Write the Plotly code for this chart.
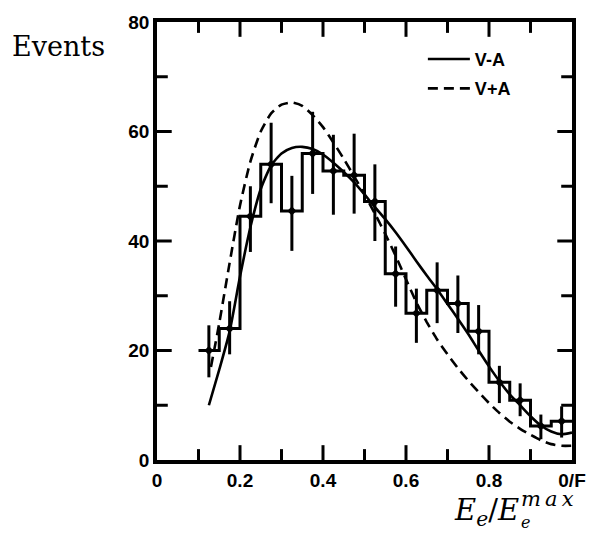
import plotly.graph_objects as go

# Measured spectrum: bin centres, event counts and asymmetric errors
bin_edges = [0.10, 0.15, 0.20, 0.25, 0.30, 0.35, 0.40, 0.45, 0.50, 0.55,
             0.60, 0.65, 0.70, 0.75, 0.80, 0.85, 0.90, 0.95, 1.00]
bin_centres = [0.125, 0.175, 0.225, 0.275, 0.325, 0.375, 0.425, 0.475, 0.525,
               0.575, 0.625, 0.675, 0.725, 0.775, 0.825, 0.875, 0.925, 0.975]
events = [20, 24, 44.5, 54, 45.5, 56, 52.8, 52, 47.2,
          34, 26.8, 31, 28.6, 23.5, 14.2, 10.9, 6.2, 7.1]
err_up = [4.6, 5.0, 5.5, 7.6, 6.4, 7.6, 6.6, 7.6, 6.8,
          5.0, 4.5, 5.1, 5.1, 4.8, 3.0, 3.1, 2.1, 2.7]
err_down = [4.9, 4.7, 6.5, 7.1, 7.3, 7.4, 8.0, 7.0, 7.2,
            6.0, 5.4, 6.0, 5.4, 4.2, 3.8, 2.9, 2.4, 3.0]

# Theoretical predictions
va_x = [0.125, 0.15, 0.175, 0.2, 0.225, 0.25, 0.275, 0.3, 0.325, 0.35, 0.375,
        0.4, 0.425, 0.45, 0.475, 0.5, 0.525, 0.55, 0.575, 0.6, 0.625, 0.65,
        0.675, 0.7, 0.725, 0.75, 0.775, 0.8, 0.825, 0.85, 0.875, 0.9, 0.925,
        0.95, 0.975, 1.0]
va_y = [10, 16.5, 23.5, 33.5, 42.5, 49.5, 53.8, 56, 57, 57.2, 56.8,
        55.8, 54.3, 52.6, 50.7, 48.5, 46.2, 44, 41.6, 39, 36.3, 33.7,
        31.2, 28.5, 25.8, 23, 20, 17.1, 14.4, 12, 10, 8, 6.3,
        5.2, 4.7, 5.0]

vpa_x = [0.13, 0.15, 0.175, 0.2, 0.225, 0.25, 0.275, 0.3, 0.325, 0.35, 0.375,
         0.4, 0.425, 0.45, 0.475, 0.5, 0.525, 0.55, 0.575, 0.6, 0.625, 0.65,
         0.675, 0.7, 0.725, 0.75, 0.775, 0.8, 0.825, 0.85, 0.875, 0.9, 0.925,
         0.95, 0.975, 1.0]
vpa_y = [17, 25, 36, 46.5, 54.5, 60, 63.3, 64.9, 65.3, 64.7, 63,
         60.8, 58, 55, 51.8, 48.5, 45, 41.3, 37.3, 33, 28.8, 25.2,
         22, 19.3, 16.8, 14.5, 12.4, 10.4, 8.6, 7, 5.7, 4.6, 3.6,
         2.9, 2.6, 2.6]

# axis ticks: labelled values and the unlabelled ones in between
x_ticks = [0.0, 0.2, 0.4, 0.6, 0.8, 1.0]
x_ticktext = ["0", "0.2", "0.4", "0.6", "0.8", "0/F"]
x_minor = [0.1, 0.3, 0.5, 0.7, 0.9]
y_ticks = [0, 20, 40, 60, 80]
y_ticktext = ["0", "20", "40", "60", "80"]
y_minor = [10, 30, 50, 70]

W, H = 598, 534
L, R, T, B = 157, 18, 17, 74
PW, PH = W - L - R, H - T - B


def px_x(p):
    return (p - L) / PW


def px_y(p):
    return (H - B - p) / PH


bold = dict(family="Liberation Sans", size=19, color="black", weight="bold")

fig = go.Figure()

# histogram as a step line
fig.add_trace(go.Scatter(
    x=bin_edges, y=events + [events[-1]], mode="lines",
    line=dict(color="black", width=3, shape="hv"),
    showlegend=False, hoverinfo="skip"))

# data points with error bars
fig.add_trace(go.Scatter(
    x=bin_centres, y=events, mode="markers",
    marker=dict(color="black", size=7, symbol="diamond"),
    error_y=dict(type="data", symmetric=False, array=err_up,
                 arrayminus=err_down, color="black", thickness=3, width=0),
    showlegend=False, hoverinfo="skip"))

fig.add_trace(go.Scatter(
    x=va_x, y=va_y, mode="lines", name="V-A", legendgroup="a",
    line=dict(color="black", width=2.6, shape="spline", smoothing=0.6)))
fig.add_trace(go.Scatter(
    x=vpa_x, y=vpa_y, mode="lines", name="V+A", legendgroup="b",
    line=dict(color="black", width=2.6, dash="10px,6px", shape="spline",
              smoothing=0.6)))

axis_common = dict(showline=True, linewidth=3.5, linecolor="black",
                   mirror=True, ticks="", showgrid=False, zeroline=False,
                   tickfont=bold)

fig.update_xaxes(range=[0, 1], tickmode="array", tickvals=x_ticks,
                 ticktext=x_ticktext, **axis_common)
fig.update_yaxes(range=[0, 80], tickmode="array", tickvals=y_ticks,
                 ticktext=y_ticktext, **axis_common)

# inward tick marks on all four sides of the frame
MAJOR, MINOR = 15, 11
tick_line = dict(color="black", width=3)
shapes = []
for vals, n in ((x_ticks[1:-1], MAJOR), (x_minor, MINOR)):
    for v in vals:
        shapes.append(dict(type="line", xref="x", yref="paper", x0=v, x1=v,
                           y0=0, y1=n / PH, line=tick_line, layer="above"))
        shapes.append(dict(type="line", xref="x", yref="paper", x0=v, x1=v,
                           y0=1, y1=1 - n / PH, line=tick_line, layer="above"))
for vals, n in ((y_ticks[1:-1], MAJOR), (y_minor, MINOR)):
    for v in vals:
        shapes.append(dict(type="line", xref="paper", yref="y", y0=v, y1=v,
                           x0=0, x1=n / PW, line=tick_line, layer="above"))
        shapes.append(dict(type="line", xref="paper", yref="y", y0=v, y1=v,
                           x0=1, x1=1 - n / PW, line=tick_line, layer="above"))

serif = "DejaVu Serif"
annotations = [
    dict(text="Events", x=px_x(57), y=px_y(42), xanchor="center",
         yanchor="middle", font=dict(family=serif, size=27, color="black")),
    dict(text="<i>E</i><sub><i>e</i></sub>/<i>E</i>", x=px_x(459),
         y=px_y(533), xanchor="left", yanchor="bottom",
         font=dict(family=serif, size=29, color="black")),
    dict(text="<i>m\u2009a\u2009x</i>", x=px_x(527), y=px_y(513),
         xanchor="left", yanchor="bottom",
         font=dict(family=serif, size=21, color="black")),
    dict(text="<i>e</i>", x=px_x(527), y=px_y(533.5),
         xanchor="left", yanchor="bottom",
         font=dict(family=serif, size=16, color="black")),
]
for a in annotations:
    a.update(xref="paper", yref="paper", showarrow=False, borderpad=0)

fig.update_layout(
    width=W, height=H, margin=dict(l=L, r=R, t=T, b=B),
    paper_bgcolor="white", plot_bgcolor="white",
    annotations=annotations, shapes=shapes,
    legend=dict(x=px_x(428), y=px_y(36), xanchor="left", yanchor="top",
                bgcolor="rgba(0,0,0,0)", font=dict(family="Liberation Sans",
                size=18, color="black", weight="bold"),
                tracegroupgap=3, itemwidth=42),
)

fig.write_html("out.html")
